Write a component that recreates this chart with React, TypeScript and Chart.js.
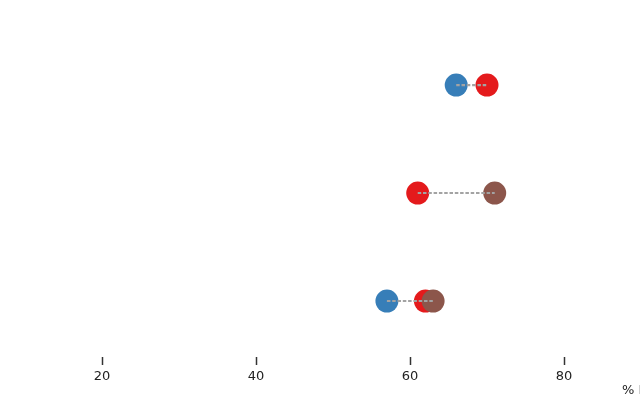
import React, { useEffect, useRef } from "react";
import { Chart, registerables } from "chart.js";

Chart.register(...registerables);

const rowPositions = [3, 2, 1];
const blueValues: (number | null)[] = [66, null, 57];
const redValues: (number | null)[] = [70, 61, 62];
const brownValues: (number | null)[] = [null, 71, 63];
const xTicks = [20, 40, 60, 80];
const xTitle = "% Internet users";

const FONT = "'DejaVu Sans', sans-serif";

function toPoints(vals: (number | null)[]) {
  const pts: { x: number; y: number }[] = [];
  vals.forEach((v, i) => {
    if (v !== null) pts.push({ x: v, y: rowPositions[i] });
  });
  return pts;
}

export default function App() {
  const ref = useRef<HTMLCanvasElement>(null);
  useEffect(() => {
    if (!ref.current) return;
    const lineSets = rowPositions.map((y, i) => {
      const vals = [blueValues[i], redValues[i], brownValues[i]].filter(
        (v): v is number => v !== null
      );
      return {
        type: "line" as const,
        data: [
          { x: Math.min(...vals), y },
          { x: Math.max(...vals), y },
        ],
        showLine: true,
        borderColor: "#a3a3a3",
        borderWidth: 2.2,
        borderDash: [3.5, 1.8],
        pointRadius: 0,
        order: 0,
      };
    });
    const dot = (vals: (number | null)[], color: string, order: number) => ({
      type: "scatter" as const,
      data: toPoints(vals),
      backgroundColor: color,
      borderWidth: 0,
      pointRadius: 11.5,
      pointHoverRadius: 11.5,
      order,
    });
    const titlePlugin = {
      id: "xtitle",
      afterDraw(chart: any) {
        const c = chart.ctx;
        c.save();
        c.font = `13px ${FONT}`;
        c.fillStyle = "#222";
        c.textBaseline = "middle";
        c.textAlign = "left";
        c.fillText(xTitle, 622, 391);
        c.restore();
      },
    };
    const chart = new Chart(ref.current, {
      type: "scatter",
      data: {
        datasets: [
          ...lineSets,
          dot(brownValues, "#8c564b", 1),
          dot(redValues, "#e41a1c", 2),
          dot(blueValues, "#377eb8", 3),
        ] as any,
      },
      options: {
        animation: false,
        responsive: true,
        maintainAspectRatio: false,
        layout: { padding: 0, autoPadding: false },
        plugins: { legend: { display: false }, tooltip: { enabled: false } },
        scales: {
          x: {
            type: "linear",
            min: 6.75,
            max: 89.87,
            afterBuildTicks: (s: any) => {
              s.ticks = xTicks.map((v) => ({ value: v }));
            },
            afterFit: (s: any) => {
              s.height = 43;
            },
            border: { display: false },
            grid: {
              drawOnChartArea: false,
              drawTicks: true,
              tickLength: 8,
              tickWidth: 1.5,
              tickColor: "#333",
            },
            ticks: {
              font: { family: FONT, size: 13 },
              color: "#222",
              padding: 4,
              maxRotation: 0,
            },
          },
          y: {
            type: "linear",
            display: false,
            min: 0.4815,
            max: 3.7875,
          },
        },
      },
      plugins: [titlePlugin],
    } as any);
    return () => chart.destroy();
  }, []);
  return (
    <div style={{ position: "fixed", left: 0, top: 0, width: 640, height: 400, background: "#fff" }}>
      <canvas ref={ref} />
    </div>
  );
}
